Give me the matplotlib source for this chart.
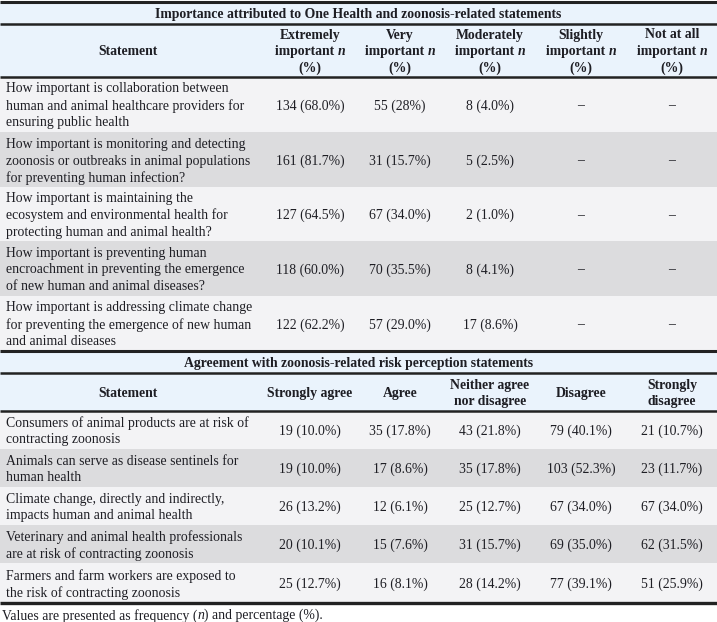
import matplotlib
matplotlib.use('Agg')
import matplotlib.pyplot as plt
from matplotlib.patches import Rectangle

# ---- data ----
title1 = "Importance attributed to One Health and zoonosis-related statements"
headers1 = [["Extremely", "important n", "(%)"],
            ["Very", "important n", "(%)"],
            ["Moderately", "important n", "(%)"],
            ["Slightly", "important n", "(%)"],
            ["Not at all", "important n", "(%)"]]
statements1 = [
    "How important is collaboration between\nhuman and animal healthcare providers for\nensuring public health",
    "How important is monitoring and detecting\nzoonosis or outbreaks in animal populations\nfor preventing human infection?",
    "How important is maintaining the\necosystem and environmental health for\nprotecting human and animal health?",
    "How important is preventing human\nencroachment in preventing the emergence\nof new human and animal diseases?",
    "How important is addressing climate change\nfor preventing the emergence of new human\nand animal diseases",
]
values1 = [
    ["134 (68.0%)", "55 (28%)", "8 (4.0%)", "\u2013", "\u2013"],
    ["161 (81.7%)", "31 (15.7%)", "5 (2.5%)", "\u2013", "\u2013"],
    ["127 (64.5%)", "67 (34.0%)", "2 (1.0%)", "\u2013", "\u2013"],
    ["118 (60.0%)", "70 (35.5%)", "8 (4.1%)", "\u2013", "\u2013"],
    ["122 (62.2%)", "57 (29.0%)", "17 (8.6%)", "\u2013", "\u2013"],
]

title2 = "Agreement with zoonosis-related risk perception statements"
headers2 = [["Strongly agree"], ["Agree"], ["Neither agree", "nor disagree"],
            ["Disagree"], ["Strongly", "disagree"]]
statements2 = [
    "Consumers of animal products are at risk of\ncontracting zoonosis",
    "Animals can serve as disease sentinels for\nhuman health",
    "Climate change, directly and indirectly,\nimpacts human and animal health",
    "Veterinary and animal health professionals\nare at risk of contracting zoonosis",
    "Farmers and farm workers are exposed to\nthe risk of contracting zoonosis",
]
values2 = [
    ["19 (10.0%)", "35 (17.8%)", "43 (21.8%)", "79 (40.1%)", "21 (10.7%)"],
    ["19 (10.0%)", "17 (8.6%)", "35 (17.8%)", "103 (52.3%)", "23 (11.7%)"],
    ["26 (13.2%)", "12 (6.1%)", "25 (12.7%)", "67 (34.0%)", "67 (34.0%)"],
    ["20 (10.1%)", "15 (7.6%)", "31 (15.7%)", "69 (35.0%)", "62 (31.5%)"],
    ["25 (12.7%)", "16 (8.1%)", "28 (14.2%)", "77 (39.1%)", "51 (25.9%)"],
]
footnote = [("Values are presented as frequency (", "normal"), ("n", "italic"),
            (") and percentage (%).", "normal")]

# ---- layout (pixels) ----
W, H = 717, 622
col_x = [310, 400, 490, 581, 672]
stmt_x = 6
stmt_hdr_x = 128
FS = 9.9
LINE = 16.8
TXT = '#1e1e24'
HDR_BG = '#eaf3fc'
ROW_BG = ['#f3f3f5', '#dcdcde']

plt.rcParams['font.family'] = ['Liberation Serif', 'DejaVu Serif']

fig = plt.figure(figsize=(W / 100, H / 100), dpi=100)
ax = fig.add_axes([0, 0, 1, 1])
ax.set_xlim(0, W)
ax.set_ylim(H, 0)
ax.axis('off')
fig.canvas.draw()
renderer = fig.canvas.get_renderer()


def rich(x, y, segs, ha='center', weight='normal'):
    # draw text segments side by side (for the italic n)
    texts = []
    for s, style in segs:
        t = ax.text(0, y, s, fontsize=FS, color=TXT, weight=weight, style=style,
                    va='center_baseline', ha='left')
        texts.append(t)
    widths = [t.get_window_extent(renderer).width for t in texts]
    start = x - sum(widths) / 2 if ha == 'center' else x
    for t, w in zip(texts, widths):
        t.set_x(start)
        start += w


def lines(x, yc, txt, ha, weight='normal', step=LINE):
    parts = txt.split('\n') if isinstance(txt, str) else txt
    n = len(parts)
    for j, line in enumerate(parts):
        yy = yc + (j - (n - 1) / 2) * step
        if line.endswith(" n"):
            rich(x, yy, [(line[:-1], 'normal'), ("n", 'italic')], weight=weight)
        else:
            ax.text(x, yy, line, fontsize=FS, weight=weight, color=TXT,
                    ha=ha, va='center_baseline')


def band(y0, y1, color):
    ax.add_patch(Rectangle((0, y0), W, y1 - y0, color=color, lw=0))


def hline(y, lw):
    ax.plot([0, W], [y, y], color='#222222', lw=lw, solid_capstyle='butt')


def draw_table(top, title, hdr_bottom, row_edges, statements, values, headers, hstep):
    title_bottom = top + 22
    band(top, hdr_bottom, HDR_BG)
    lines(W / 2, (top + title_bottom) / 2 + 0.5, title, 'center', 'bold')
    hc = (title_bottom + hdr_bottom) / 2
    lines(stmt_hdr_x, hc, "Statement", 'center', 'bold')
    for i, h in enumerate(headers):
        lines(col_x[i], hc, h, 'center', 'bold', step=hstep)
    for r, (s, vals) in enumerate(zip(statements, values)):
        y0, y1 = row_edges[r], row_edges[r + 1]
        band(y0, y1, ROW_BG[r % 2])
        yc = (y0 + y1) / 2
        lines(stmt_x, yc, s, 'left')
        for i, v in enumerate(vals):
            lines(col_x[i], yc, v, 'center')
    hline(top, 2.2)
    hline(title_bottom, 1.8)
    hline(hdr_bottom, 1.8)


draw_table(1.5, title1, 76.5, [76.5, 132, 187, 241, 296, 350.5],
           statements1, values1, headers1, 16.5)
draw_table(350.5, title2, 411, [411, 449, 487, 525, 563, 602.5],
           statements2, values2, headers2, 16)
hline(602.5, 2.4)

rich(2, 614, footnote, ha='left')

fig.savefig('out.png', dpi=100)
